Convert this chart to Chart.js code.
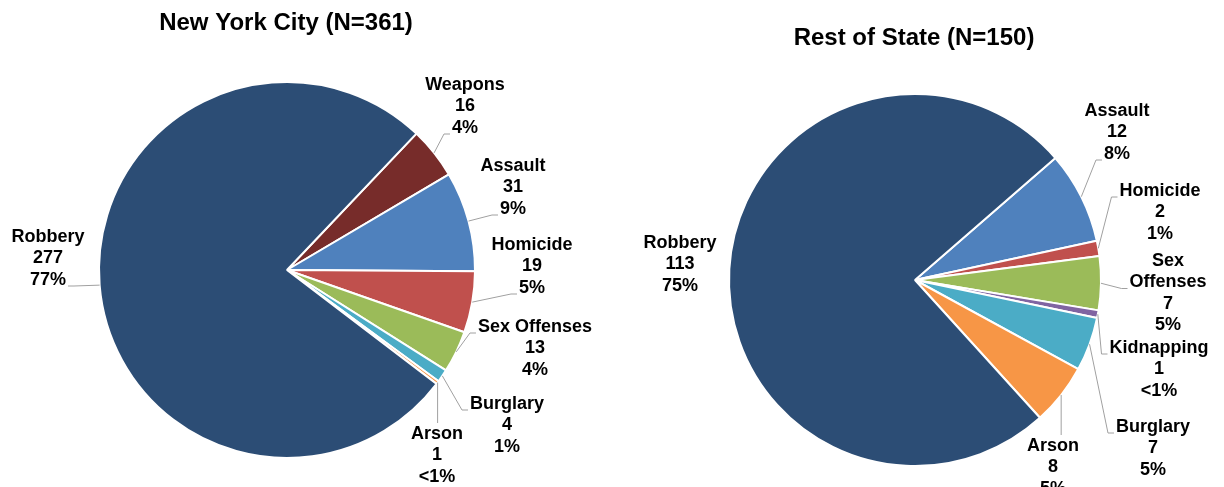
<!DOCTYPE html>
<html>
<head>
<meta charset="utf-8">
<script src="https://cdn.jsdelivr.net/npm/chart.js@4"></script>
<style>
  body { margin: 0; background: #fff; }
  #wrap { position: relative; width: 1224px; height: 487px; }
  canvas { position: absolute; top: 0; }
  #nyc { left: 0; }
  #ros { left: 612px; }
</style>
</head>
<body>
<div id="wrap">
  <canvas id="nyc" width="612" height="487"></canvas>
  <canvas id="ros" width="612" height="487"></canvas>
</div>
<script>
// --- data ---
const nycCategories = ["Weapons", "Assault", "Homicide", "Sex Offenses", "Burglary", "Arson", "Robbery"];
const nycCounts = [16, 31, 19, 13, 4, 1, 277];

const rosCategories = ["Assault", "Homicide", "Sex Offenses", "Kidnapping", "Burglary", "Arson", "Robbery"];
const rosCounts = [12, 2, 7, 1, 7, 8, 113];

// --- styling ---
const sliceColors = {
  "Robbery": "#2C4D75",
  "Weapons": "#772C2A",
  "Assault": "#4F81BD",
  "Homicide": "#C0504D",
  "Sex Offenses": "#9BBB59",
  "Burglary": "#4BACC6",
  "Arson": "#F79646",
  "Kidnapping": "#8064A2"
};

const FONT = '"Liberation Sans", Arial, sans-serif';
const LINE_H = 21.5;

// label spots (canvas coords): x = centre, y = first line, attach = where the leader meets
const nycSpots = {
  "Weapons":      { x: 465, y: 85,  attach: "left", line: 2 },
  "Assault":      { x: 513, y: 166, attach: "left", line: 2 },
  "Homicide":     { x: 532, y: 245, attach: "left", line: 2 },
  "Sex Offenses": { x: 535, y: 327, attach: "left", line: 0 },
  "Burglary":     { x: 507, y: 404, attach: "left", line: 0 },
  "Arson":        { x: 437, y: 434, attach: "top" },
  "Robbery":      { x: 48,  y: 237, attach: "right", line: 2 }
};

const rosSpots = {
  "Assault":      { x: 505, y: 111, attach: "left", line: 2 },
  "Homicide":     { x: 548, y: 191, attach: "left", line: 0 },
  "Sex Offenses": { x: 556, y: 261, attach: "left", line: 1, wrap: true },
  "Kidnapping":   { x: 547, y: 348, attach: "left", line: 0 },
  "Burglary":     { x: 541, y: 427, attach: "left", line: 0 },
  "Arson":        { x: 441, y: 446, attach: "top" },
  "Robbery":      { x: 68,  y: 243 }
};

// draws the category / count / percent labels with leader lines, plus the title
const sliceLabels = {
  id: "sliceLabels",
  afterDatasetsDraw(chart, args, opts) {
    const ctx = chart.ctx;
    const meta = chart.getDatasetMeta(0);
    const values = chart.data.datasets[0].data;
    const total = values.reduce((a, b) => a + b, 0);

    ctx.save();
    ctx.font = "bold 18px " + FONT;
    ctx.textAlign = "center";
    ctx.textBaseline = "middle";

    meta.data.forEach((arc, i) => {
      const name = chart.data.labels[i];
      const spot = opts.spots[name];
      if (!spot) return;
      const pct = values[i] / total * 100;
      const pctText = pct < 1 ? "<1%" : Math.round(pct) + "%";
      const lines = (spot.wrap ? name.split(" ") : [name]).concat([String(values[i]), pctText]);

      const p = arc.getProps(["x", "y", "startAngle", "endAngle", "outerRadius"], true);
      const mid = (p.startAngle + p.endAngle) / 2;
      const ex = p.x + Math.cos(mid) * p.outerRadius;
      const ey = p.y + Math.sin(mid) * p.outerRadius;

      if (spot.attach) {
        ctx.strokeStyle = "#A0A0A0";
        ctx.lineWidth = 1;
        ctx.beginPath();
        ctx.moveTo(ex, ey);
        if (spot.attach === "top") {
          ctx.lineTo(ex, spot.y - 11);
        } else {
          const k = spot.line || 0;
          const ly = spot.y + k * LINE_H + 6;
          const w = ctx.measureText(lines[k]).width;
          if (spot.attach === "left") {
            const ax = spot.x - w / 2 - 2;
            ctx.lineTo(ax - 6, ly);
            ctx.lineTo(ax, ly);
          } else {
            const ax = spot.x + w / 2 + 2;
            ctx.lineTo(ax + 6, ly);
            ctx.lineTo(ax, ly);
          }
        }
        ctx.stroke();
      }

      ctx.fillStyle = "#000";
      lines.forEach((t, j) => ctx.fillText(t, spot.x, spot.y + j * LINE_H));
    });

    ctx.font = "bold 24px " + FONT;
    ctx.fillStyle = "#000";
    ctx.fillText(opts.title, opts.titleX, opts.titleY);
    ctx.restore();
  }
};

function pieConfig(categories, counts, opt) {
  return {
    type: "pie",
    data: {
      labels: categories,
      datasets: [{
        data: counts,
        backgroundColor: categories.map(c => sliceColors[c]),
        borderColor: "#FFFFFF",
        borderWidth: 2
      }]
    },
    options: {
      responsive: false,
      animation: false,
      rotation: opt.rotation,
      radius: opt.radius,
      layout: { padding: opt.padding },
      plugins: {
        legend: { display: false },
        tooltip: { enabled: false },
        sliceLabels: {
          spots: opt.spots,
          title: opt.title,
          titleX: opt.titleX,
          titleY: opt.titleY
        }
      }
    },
    plugins: [sliceLabels]
  };
}

// NYC pie: centre (287, 270), radius 188
new Chart(document.getElementById("nyc"), pieConfig(nycCategories, nycCounts, {
  rotation: 43.5,
  radius: 188,
  padding: { left: 0, right: 38, top: 53, bottom: 0 },
  spots: nycSpots,
  title: "New York City (N=361)",
  titleX: 286,
  titleY: 23
}));

// Rest of State pie: centre (303, 280) in its canvas, radius 186
new Chart(document.getElementById("ros"), pieConfig(rosCategories, rosCounts, {
  rotation: 49,
  radius: 186,
  padding: { left: 0, right: 6, top: 73, bottom: 0 },
  spots: rosSpots,
  title: "Rest of State (N=150)",
  titleX: 302,
  titleY: 38
}));
</script>
</body>
</html>
